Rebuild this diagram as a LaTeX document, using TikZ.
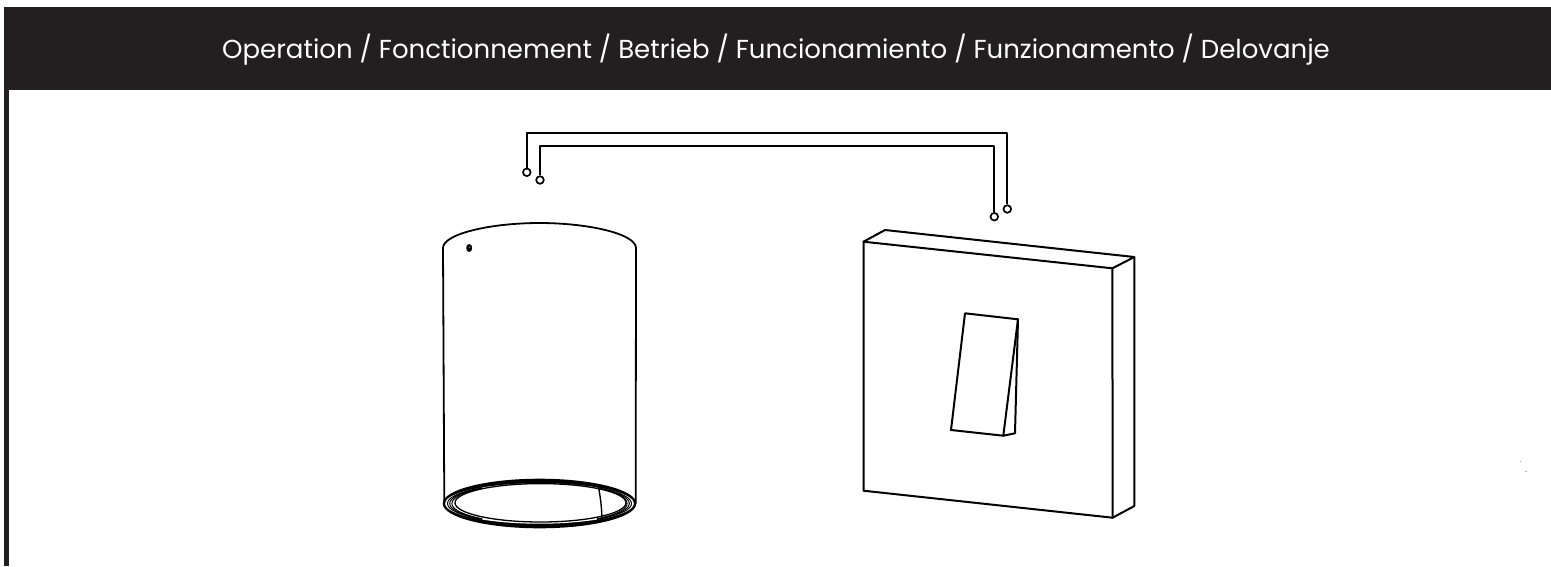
\documentclass[tikz,border=0pt]{standalone}
\usepackage{fontspec}
\setmainfont{Poppins}
\definecolor{hdr}{HTML}{231F20}
\tikzset{
  line/.style={draw=black,line width=2pt,line join=round,line cap=round},
  ring/.style={draw=black,line width=1pt},
  terminal/.style={circle,draw=black,fill=white,line width=1.7pt,minimum size=7.6pt,inner sep=0pt},
}
\begin{document}
\begin{tikzpicture}[x=1pt,y=-1pt]
\useasboundingbox (0,0) rectangle (1551,566);
\fill[white] (0,0) rectangle (1551,566);
% header band and left bar
\fill[hdr] (4,7) rectangle (1551,90);
\fill[hdr] (4,90) rectangle (9.3,566);
\node[text=white,font=\fontsize{26}{30}\selectfont,anchor=center] (title) at (776,49.5) {Operation / Fonctionnement / Betrieb / Funcionamiento / Funzionamento / Delovanje};
% terminals
\coordinate (c1) at (526.8,133.3);
\coordinate (d1) at (1007.3,133.3);
\coordinate (c2) at (540,146);
\coordinate (d2) at (994.3,146);
\node[terminal] (a1) at (526.8,172.3) {};
\node[terminal] (a2) at (540,180) {};
\node[terminal] (b1) at (1007.3,209) {};
\node[terminal] (b2) at (994.3,216.7) {};
\draw[line,line cap=butt] (a1.north) -- (c1) -- (d1) -- (b1.north);
\draw[line,line cap=butt] (a2.north) -- (c2) -- (d2) -- (b2.north);
% lamp body
\draw[line,line width=1.8pt] (444.3,503) -- (443,248)
  .. controls (443,234) and (490,223) .. (539.5,223)
  .. controls (589,223) and (636,234) .. (636,248) -- (635.7,503);
\fill[black] (469.2,248) ellipse (3 and 4);
\fill[black!55] (469.6,247.4) circle (0.9);
% lamp bottom rings
\fill[black] (539.5,503.5) ellipse (96.8 and 24.8);
\fill[white] (539.5,503.5) ellipse (94.3 and 20.2);
\begin{scope}
  \clip (440,475) rectangle (482,530) (597,475) rectangle (640,530);
  \draw[ring] (539.5,503.5) ellipse (92 and 20.2);
  \draw[ring] (539.5,503.5) ellipse (89.8 and 20.2);
  \draw[ring] (539.5,503.5) ellipse (87.6 and 20.2);
\end{scope}
\draw[ring,line width=1.3pt,fill=white] (540.5,502.8) ellipse (85.5 and 19.2);
\draw[ring,line width=1.4pt] (598.3,486.5) .. controls (600.5,497) and (601.8,508) .. (602,520);
% switch plate
\draw[line] (863.5,241.7) -- (1112.4,268.3) -- (1112.6,517.7) -- (863.5,490.7) -- cycle;
\draw[line] (863.5,241.7) -- (885,230) -- (1134.3,257) -- (1112.4,268.3);
\draw[line] (1134.3,257) -- (1134.3,506) -- (1112.6,517.7);
% rocker
\draw[line] (965,313.3) -- (1018,319.3) -- (1003.3,435.7) -- (951,430) -- cycle;
\draw[line] (1018,319.3) -- (1015,433.3) -- (1003.3,435.7);
% specks
\fill[black!35] (1520,460.5) rectangle (1520.8,462);
\fill[black!30] (1525,471) rectangle (1527,471.7);
\end{tikzpicture}
\end{document}
